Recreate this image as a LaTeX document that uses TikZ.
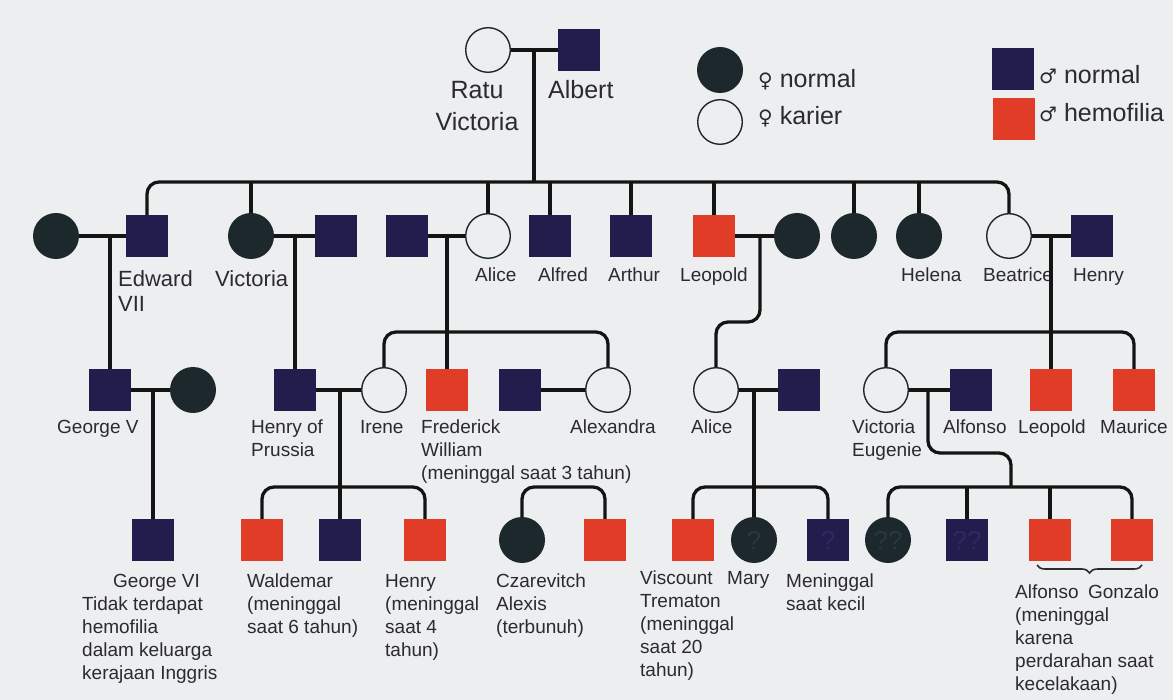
\documentclass[tikz,border=0pt]{standalone}
\usepackage{fontspec}
\setmainfont{Liberation Sans}
\newfontfamily\symfont{DejaVu Sans}
\usetikzlibrary{decorations.pathreplacing}
\definecolor{paper}{HTML}{EDEEF0}
\definecolor{ink}{HTML}{2A2A30}
\definecolor{navy}{HTML}{231D4E}
\definecolor{coal}{HTML}{1C282C}
\definecolor{hemred}{HTML}{E03C28}
\definecolor{wire}{HTML}{141414}
\definecolor{qmark}{HTML}{2A363E}
\definecolor{qmarkm}{HTML}{2E2960}
\tikzset{
  mal/.style={fill=navy, minimum size=42pt, inner sep=0pt},
  hem/.style={fill=hemred, minimum size=42pt, inner sep=0pt},
  fem/.style={circle, fill=coal, minimum size=46pt, inner sep=0pt},
  kar/.style={circle, draw=coal, line width=1.4pt, fill=paper, minimum size=44.6pt, inner sep=0pt},
  link/.style={draw=wire, line width=3.3pt, rounded corners=12pt},
  lab/.style={text=ink, font=\fontsize{19}{23}\selectfont, anchor=north west, inner sep=0pt, align=left},
  labmid/.style={lab, font=\fontsize{22}{25}\selectfont},
  labbig/.style={text=ink, font=\fontsize{25}{32}\selectfont, inner sep=0pt},
  qm/.style={text=qmark, font=\fontsize{26}{26}\selectfont},
}
\newcommand{\fem}{{\symfont\fontsize{20}{20}\selectfont ♀}}
\newcommand{\mal}{{\symfont\fontsize{20}{20}\selectfont ♂}}

\begin{document}
\begin{tikzpicture}[x=1pt, y=-1pt]
  \fill[paper] (0,0) rectangle (1173,700);
  \useasboundingbox (0,0) rectangle (1173,700);

  % generation I
  \node[kar] (qv) at (488,50) {};
  \node[mal] (albert) at (579,50) {};
  \node[labbig, align=center] (qvLab) at (477,106) {Ratu\\Victoria};
  \node[labbig, anchor=west] (albertLab) at (548,90) {Albert};

  % legend
  \node[fem] (keyFem) at (720,70) {};
  \node[kar] (keyKar) at (720,122) {};
  \node[labbig, anchor=west] (keyFemLab) at (758,80) {\fem\ normal};
  \node[labbig, anchor=west] (keyKarLab) at (758,117) {\fem\ karier};
  \node[mal] (keyMal) at (1013,69) {};
  \node[hem] (keyHem) at (1014,119) {};
  \node[labbig, anchor=west] (keyMalLab) at (1039,75) {\mal\ normal};
  \node[labbig, anchor=west] (keyHemLab) at (1039,113) {\mal\ hemofilia};

  % generation II
  \node[fem] (edwW) at (56,236) {};
  \node[mal] (edw) at (147,236) {};
  \node[fem] (vic) at (251,236) {};
  \node[mal] (vicH) at (336,236) {};
  \node[mal] (aliceH) at (407,236) {};
  \node[kar] (alice) at (488,236) {};
  \node[mal] (alfred) at (550,236) {};
  \node[mal] (arthur) at (631,236) {};
  \node[hem] (leo) at (714,236) {};
  \node[fem] (leoW) at (797,236) {};
  \node[fem] (girl) at (854,236) {};
  \node[fem] (helena) at (919,236) {};
  \node[kar] (bea) at (1009,236) {};
  \node[mal] (henry) at (1092,236) {};

  \node[labmid] (edwLab) at (118,270) {Edward\\VII};
  \node[labmid] (vicLab) at (215,270) {Victoria};
  \node[lab] (aliceLab) at (475,268) {Alice};
  \node[lab] (alfredLab) at (538,268) {Alfred};
  \node[lab] (arthurLab) at (608,268) {Arthur};
  \node[lab] (leoLab) at (680,268) {Leopold};
  \node[lab] (helenaLab) at (901,268) {Helena};
  \node[lab] (beaLab) at (983,268) {Beatrice};
  \node[lab] (henryLab) at (1073,268) {Henry};

  % generation III
  \node[mal] (geo5) at (110,390) {};
  \node[fem] (geo5W) at (193,390) {};
  \node[mal] (hp) at (295,390) {};
  \node[kar] (irene) at (384,390) {};
  \node[hem] (fw) at (447,390) {};
  \node[mal] (alexaH) at (520,390) {};
  \node[kar] (alexa) at (608,390) {};
  \node[kar] (alice2) at (716,390) {};
  \node[mal] (alice2H) at (799,390) {};
  \node[kar] (ve) at (886,390) {};
  \node[mal] (alfonso) at (971,390) {};
  \node[hem] (leo2) at (1051,390) {};
  \node[hem] (maurice) at (1134,390) {};

  \node[lab] (geo5Lab) at (57,420) {George V};
  \node[lab] (hpLab) at (251,420) {Henry of\\Prussia};
  \node[lab] (ireneLab) at (360,420) {Irene};
  \node[lab] (fwLab) at (421,420) {Frederick\\William\\(meninggal saat 3 tahun)};
  \node[lab] (alexaLab) at (570,420) {Alexandra};
  \node[lab] (alice2Lab) at (691,420) {Alice};
  \node[lab] (veLab) at (852,420) {Victoria\\Eugenie};
  \node[lab] (alfonsoLab) at (943,420) {Alfonso};
  \node[lab] (leo2Lab) at (1018,420) {Leopold};
  \node[lab] (mauriceLab) at (1100,420) {Maurice};

  % generation IV
  \node[mal] (geo6) at (153,540) {};
  \node[hem] (walde) at (262,540) {};
  \node[mal] (hpSon) at (340,540) {};
  \node[hem] (henry3) at (425,540) {};
  \node[fem] (czarA) at (522,540) {};
  \node[hem] (czarB) at (605,540) {};
  \node[hem] (visc) at (693,540) {};
  \node[fem, qm] (mary) at (754,540) {?};
  \node[mal, qm, text=qmarkm] (infant) at (828,540) {?};
  \node[fem, qm] (veGirl) at (888,540) {??};
  \node[mal, qm, text=qmarkm] (veBoy) at (967,540) {??};
  \node[hem] (alf4) at (1050,540) {};
  \node[hem] (gonz) at (1132,540) {};

  \node[lab] (geo6Lab) at (113,574) {George VI};
  \node[lab] (geo6Note) at (82,597) {Tidak terdapat\\hemofilia\\dalam keluarga\\kerajaan Inggris};
  \node[lab] (waldeLab) at (247,574) {Waldemar\\(meninggal\\saat 6 tahun)};
  \node[lab] (henry3Lab) at (385,574) {Henry\\(meninggal\\saat 4\\tahun)};
  \node[lab] (czarLab) at (496,574) {Czarevitch\\Alexis\\(terbunuh)};
  \node[lab] (viscLab) at (640,571) {Viscount\\Trematon\\(meninggal\\saat 20\\tahun)};
  \node[lab] (maryLab) at (727,571) {Mary};
  \node[lab] (infantLab) at (786,574) {Meninggal\\saat kecil};
  \node[lab] (spainLab) at (1015,585) {Alfonso\hspace{0.5em}Gonzalo\\(meninggal\\karena\\perdarahan saat\\kecelakaan)};

  % couples
  \draw[link] (qv) -- (albert);
  \draw[link] (edwW) -- (edw);
  \draw[link] (vic) -- (vicH);
  \draw[link] (aliceH) -- (alice);
  \draw[link] (leo) -- (leoW);
  \draw[link] (bea) -- (henry);
  \draw[link] (geo5) -- (geo5W);
  \draw[link] (hp) -- (irene);
  \draw[link] (alexaH) -- (alexa);
  \draw[link] (alice2) -- (alice2H);
  \draw[link] (ve) -- (alfonso);

  % descents
  \coordinate (qvM) at (534,50);
  \coordinate (sib2) at (534,182);
  \draw[link] (qvM) -- (sib2);
  \draw[link] (edw) |- (sib2) -| (bea);
  \foreach \k in {vic,alice,alfred,arthur,leo,girl,helena}
    \draw[link] (\k) -- (\k |- sib2);

  \coordinate (edwM) at (110,236);
  \draw[link] (edwM) -- (geo5);
  \coordinate (vicM) at (295,236);
  \draw[link] (vicM) -- (hp);
  \coordinate (aliceM) at (447,236);
  \draw[link] (aliceM) -- (fw);
  \draw[link] (irene) |- (aliceM |- 0,332) -| (alexa);
  \coordinate (leoM) at (760,236);
  \coordinate (leoBend) at (760,322);
  \draw[link] (leoM) -- (leoBend) -| (alice2);
  \coordinate (beaM) at (1051,236);
  \draw[link] (beaM) -- (leo2);
  \draw[link] (ve) |- (beaM |- 0,332) -| (maurice);

  \coordinate (geo5M) at (153,390);
  \draw[link] (geo5M) -- (geo6);
  \coordinate (hpM) at (340,390);
  \draw[link] (hpM) -- (hpSon);
  \draw[link] (walde) |- (hpM |- 0,487) -| (henry3);
  \coordinate (czarTop) at (563,487);
  \draw[link] (czarA) |- (czarTop) -| (czarB);
  \coordinate (alice2M) at (754,390);
  \draw[link] (alice2M) -- (mary);
  \draw[link] (visc) |- (alice2M |- 0,487) -| (infant);
  \coordinate (veM) at (928,390);
  \coordinate (veBend) at (928,453);
  \coordinate (sib4e) at (1011,487);
  \draw[link] (veM) -- (veBend) -| (sib4e);
  \draw[link] (veGirl) |- (sib4e) -| (gonz);
  \foreach \k in {veBoy,alf4}
    \draw[link] (\k) -- (\k |- sib4e);

  \draw[draw=ink, line width=1.6pt, decorate, decoration={brace, amplitude=8pt, mirror}]
    (1037,565) -- (1142,565);
\end{tikzpicture}
\end{document}
